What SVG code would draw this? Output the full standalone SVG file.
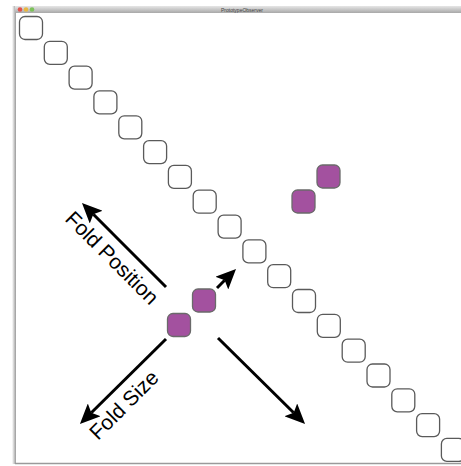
<svg xmlns="http://www.w3.org/2000/svg" width="461" height="466" viewBox="0 0 461 466">
<defs>
<style>
.sq{fill:#fff;stroke:#5a5a5a;stroke-width:1.3}
.pu{fill:#a3519f;stroke:#6a6a6a;stroke-width:1.3}
.ar{stroke:#000;stroke-width:3;fill:none;marker-end:url(#ah)}
.lb{font-family:"Liberation Sans",Arial,sans-serif;font-size:21px;fill:#000}
</style>
<linearGradient id="tb" x1="0" y1="0" x2="0" y2="1">
<stop offset="0" stop-color="#e6e6e6"/><stop offset="1" stop-color="#a8a8a8"/>
</linearGradient>
<linearGradient id="lb" x1="0" y1="0" x2="1" y2="0">
<stop offset="0" stop-color="#fff"/><stop offset="1" stop-color="#9a9a9a"/>
</linearGradient>
<marker id="ah" viewBox="0 0 20 18" refX="4" refY="9" markerWidth="20" markerHeight="18" markerUnits="userSpaceOnUse" orient="auto">
<path d="M0,0 L20,9 L0,18 L4,9 Z" fill="#000"/>
</marker>
</defs>
<rect width="461" height="466" fill="#fff"/>
<g id="window">
<rect x="12" y="6" width="4" height="458" fill="url(#lb)"/>
<rect x="15" y="6" width="446" height="7" fill="url(#tb)"/>
<line x1="15" y1="463.5" x2="461" y2="463.5" stroke="#9a9a9a" stroke-width="1.5"/>
<circle cx="20" cy="9.5" r="2.3" fill="#e0524c"/>
<circle cx="26" cy="9.5" r="2.3" fill="#e8b840"/>
<circle cx="32" cy="9.5" r="2.3" fill="#7cc15a"/>
<text x="242" y="11.5" text-anchor="middle" font-family="Liberation Sans,sans-serif" font-size="5" fill="#444">PrototypeObserver</text>
</g>
<g id="squares">
<rect class="sq" x="19.5" y="16.5" width="23" height="23" rx="5.5"/>
<rect class="sq" x="44.3" y="41.3" width="23" height="23" rx="5.5"/>
<rect class="sq" x="69.1" y="66.1" width="23" height="23" rx="5.5"/>
<rect class="sq" x="93.9" y="90.9" width="23" height="23" rx="5.5"/>
<rect class="sq" x="118.8" y="115.8" width="23" height="23" rx="5.5"/>
<rect class="sq" x="143.6" y="140.6" width="23" height="23" rx="5.5"/>
<rect class="sq" x="168.4" y="165.4" width="23" height="23" rx="5.5"/>
<rect class="sq" x="193.2" y="190.2" width="23" height="23" rx="5.5"/>
<rect class="sq" x="218.1" y="215.1" width="23" height="23" rx="5.5"/>
<rect class="sq" x="242.9" y="239.9" width="23" height="23" rx="5.5"/>
<rect class="sq" x="267.7" y="264.7" width="23" height="23" rx="5.5"/>
<rect class="sq" x="292.5" y="289.5" width="23" height="23" rx="5.5"/>
<rect class="sq" x="317.3" y="314.3" width="23" height="23" rx="5.5"/>
<rect class="sq" x="342.2" y="339.2" width="23" height="23" rx="5.5"/>
<rect class="sq" x="367" y="364" width="23" height="23" rx="5.5"/>
<rect class="sq" x="391.8" y="388.8" width="23" height="23" rx="5.5"/>
<rect class="sq" x="416.6" y="413.6" width="23" height="23" rx="5.5"/>
<rect class="sq" x="441.4" y="438.4" width="23" height="23" rx="5.5"/>
</g>
<g id="purple-top">
<rect class="pu" x="317" y="165" width="23" height="23" rx="5.5"/>
<rect class="pu" x="292" y="190" width="23" height="23" rx="5.5"/>
</g>
<g id="purple-bottom">
<rect class="pu" x="192.5" y="289" width="23" height="23" rx="5.5"/>
<rect class="pu" x="167.5" y="313.5" width="23" height="23" rx="5.5"/>
</g>
<g id="connectors">
<line class="ar" x1="166" y1="287" x2="93.3" y2="214.3"/>
<line class="ar" x1="217" y1="288" x2="224.7" y2="280.3"/>
<line class="ar" x1="166" y1="339" x2="91.3" y2="412.7"/>
<line class="ar" x1="218" y1="338" x2="293.7" y2="412.7"/>
</g>
<g id="labels">
<text class="lb" text-anchor="middle" transform="translate(107,263) rotate(45)">Fold Position</text>
<text class="lb" text-anchor="middle" transform="translate(129,410) rotate(-45)">Fold Size</text>
</g>
</svg>
